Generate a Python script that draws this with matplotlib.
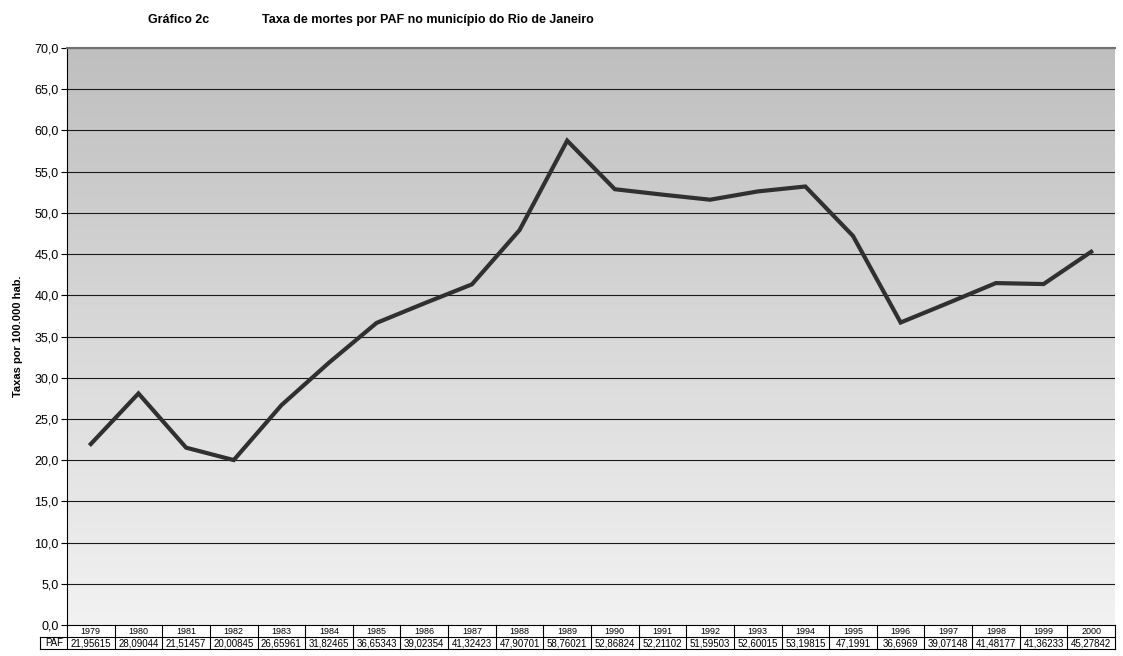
import numpy as np
import matplotlib.pyplot as plt
from matplotlib.colors import LinearSegmentedColormap

plt.rcParams['font.family'] = ['Liberation Sans', 'DejaVu Sans']

years = ['1979', '1980', '1981', '1982', '1983', '1984', '1985', '1986', '1987', '1988', '1989',
         '1990', '1991', '1992', '1993', '1994', '1995', '1996', '1997', '1998', '1999', '2000']
paf = [21.95615, 28.09044, 21.51457, 20.00845, 26.65961, 31.82465, 36.65343, 39.02354, 41.32423,
       47.90701, 58.76021, 52.86824, 52.21102, 51.59503, 52.60015, 53.19815, 47.1991, 36.6969,
       39.07148, 41.48177, 41.36233, 45.27842]
paf_txt = ['21,95615', '28,09044', '21,51457', '20,00845', '26,65961', '31,82465', '36,65343',
           '39,02354', '41,32423', '47,90701', '58,76021', '52,86824', '52,21102', '51,59503',
           '52,60015', '53,19815', '47,1991', '36,6969', '39,07148', '41,48177', '41,36233', '45,27842']
yticks = np.arange(0, 75, 5)

fig = plt.figure(figsize=(11.23, 6.56), dpi=100)
ax = fig.add_axes([67/1123, 1-625/656, 1048/1123, 577/656])

# gradient background
cmap = LinearSegmentedColormap.from_list('bg', ['#f2f2f2', '#bfbfbf'])
grad = np.linspace(0, 1, 256).reshape(-1, 1)
ax.imshow(grad, cmap=cmap, aspect='auto', origin='lower', extent=[0, 1, 0, 1],
          transform=ax.transAxes, zorder=0)

n = len(years)
x = np.arange(n) + 0.5
ax.plot(x, paf, color='#303030', lw=3, zorder=3, solid_joinstyle='miter')

ax.set_xlim(0, n)
ax.set_ylim(0, 70)
ax.set_yticks(yticks)
ax.set_yticklabels([f'{v:.1f}'.replace('.', ',') for v in yticks], fontsize=9)
ax.set_xticks([])
for v in yticks[1:]:
    ax.axhline(v, color='#1a1a1a', lw=0.8, zorder=1)
ax.spines['top'].set_color('#707070')
ax.spines['top'].set_linewidth(1.5)
ax.spines['right'].set_visible(False)
ax.spines['left'].set_color('black')
ax.spines['bottom'].set_color('black')
ax.tick_params(axis='y', length=4, width=0.8, pad=2)

ax.set_ylabel('Taxas por 100.000 hab.', fontsize=8, fontweight='bold', labelpad=8)

# data table below the axis
trans = ax.get_xaxis_transform()
rh = 12/577
kw = dict(transform=trans, clip_on=False, color='black', lw=0.8)
ax.plot([-27/47.6, n], [-2*rh, -2*rh], **kw)
ax.plot([-27/47.6, 0], [-rh, -rh], **kw)
ax.plot([0, n], [-rh, -rh], **kw)
ax.plot([-27/47.6, -27/47.6], [-rh, -2*rh], **kw)
for i in range(n + 1):
    ax.plot([i, i], [0, -2*rh], **kw)
for i in range(n):
    ax.text(i + 0.5, -rh/2, years[i], transform=trans, ha='center', va='center', fontsize=6.5)
    ax.text(i + 0.5, -1.5*rh, paf_txt[i], transform=trans, ha='center', va='center', fontsize=7)
ax.text(-13/47.6, -1.5*rh, 'PAF', transform=trans, ha='center', va='center', fontsize=7)

fig.text(148/1123, 1-20/656, 'Gráfico 2c', fontsize=9, fontweight='bold', ha='left', va='center')
fig.text(262/1123, 1-20/656, 'Taxa de mortes por PAF no município do Rio de Janeiro',
         fontsize=9, fontweight='bold', ha='left', va='center')

fig.savefig('out.png', dpi=100)
